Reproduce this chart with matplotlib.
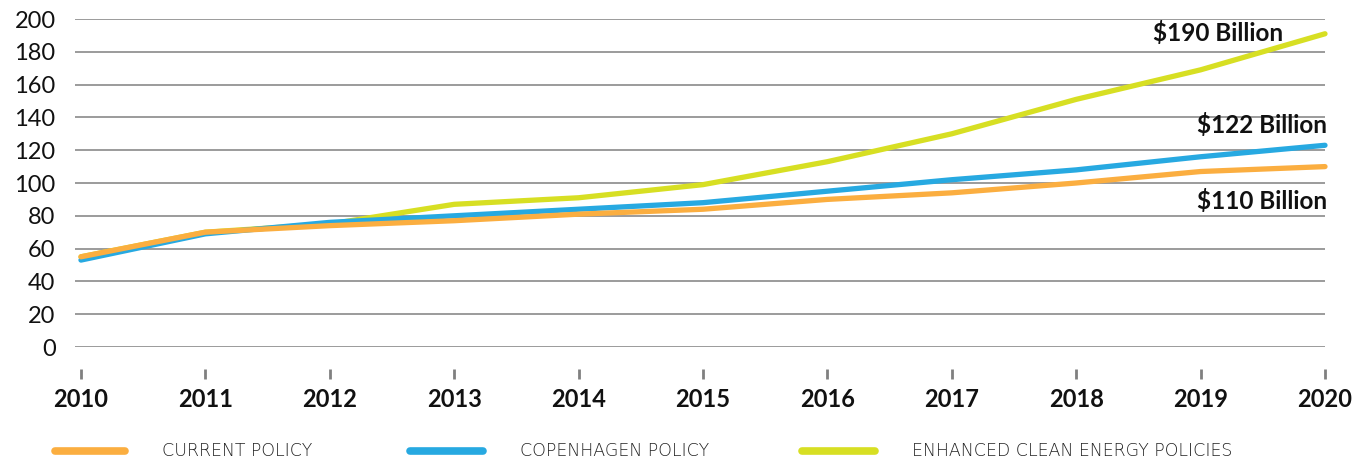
import matplotlib
matplotlib.use("Agg")
import matplotlib.pyplot as plt
from matplotlib.lines import Line2D

years = [2010, 2011, 2012, 2013, 2014, 2015, 2016, 2017, 2018, 2019, 2020]
current_policy = [55, 70, 74, 77, 81, 84, 90, 94, 100, 107, 110]
copenhagen_policy = [53, 69, 76, 80, 84, 88, 95, 102, 108, 116, 123]
enhanced_policy = [55, 70, 75, 87, 91, 99, 113, 130, 151, 169, 191]
series_names = ["CURRENT POLICY", "COPENHAGEN POLICY", "ENHANCED CLEAN ENERGY POLICIES"]
colors = ["#FBAE40", "#27A9E1", "#D7DF23"]
y_ticks = [0, 20, 40, 60, 80, 100, 120, 140, 160, 180, 200]
annotations = ["$190 Billion", "$122 Billion", "$110 Billion"]

plt.rcParams['font.family'] = ['Lato', 'DejaVu Sans']

W, H = 1366, 459
fig = plt.figure(figsize=(W / 100, H / 100), dpi=100)
ax = fig.add_axes([75 / W, 1 - 347 / H, (1325 - 75) / W, (347 - 19) / H])

ax.set_xlim(2009.952, 2020)
ax.set_ylim(0, 200)
ax.set_yticks(y_ticks)
ax.set_xticks(years)
ax.grid(axis='y', color='#8a8a8a', linewidth=1.2)
ax.set_axisbelow(True)
for s in ['top', 'right', 'left']:
    ax.spines[s].set_visible(False)
ax.spines['bottom'].set_position(('outward', 16))
ax.spines['bottom'].set_visible(False)
ax.tick_params(axis='y', length=0, pad=14, labelsize=17, labelcolor='#111111')
ax.tick_params(axis='x', length=7.2, width=2, color='#808080', direction='out', pad=6, labelsize=17, labelcolor='#111111')
for lbl in ax.get_xticklabels():
    lbl.set_fontweight('bold')

data = [current_policy, copenhagen_policy, enhanced_policy]
for vals, c, z in zip(data, colors, [4, 3, 2]):
    ax.plot(years, vals, color=c, linewidth=3.8, solid_capstyle='round', zorder=z, clip_on=False)

def px(x, y):
    return x / W, 1 - y / H

# annotations (positions in data coords)
ax.text(2019.665, 191.5, annotations[0].replace("$", r"\$"), ha='right', va='center', fontsize=17.5, fontweight='bold', color='#111111')
ax.text(2020.02, 135.5, annotations[1].replace("$", r"\$"), ha='right', va='center', fontsize=17.5, fontweight='bold', color='#111111')
ax.text(2020.02, 89, annotations[2].replace("$", r"\$"), ha='right', va='center', fontsize=17.5, fontweight='bold', color='#111111')

# legend
leg_pos = [(55, 125, 162), (410, 483, 520), (802, 875, 912)]
for (x0, x1, tx), c, name in zip(leg_pos, colors, series_names):
    fx0, fy = px(x0, 451)
    fx1, _ = px(x1, 451)
    fig.add_artist(Line2D([fx0, fx1], [fy, fy], color=c, linewidth=5.5, solid_capstyle='round'))
    fig.text(tx / W, fy, name, ha='left', va='center', fontsize=12.5, color='#222222',
             family=['DejaVu Sans'], fontweight='light')

fig.savefig("out.png", dpi=100)
